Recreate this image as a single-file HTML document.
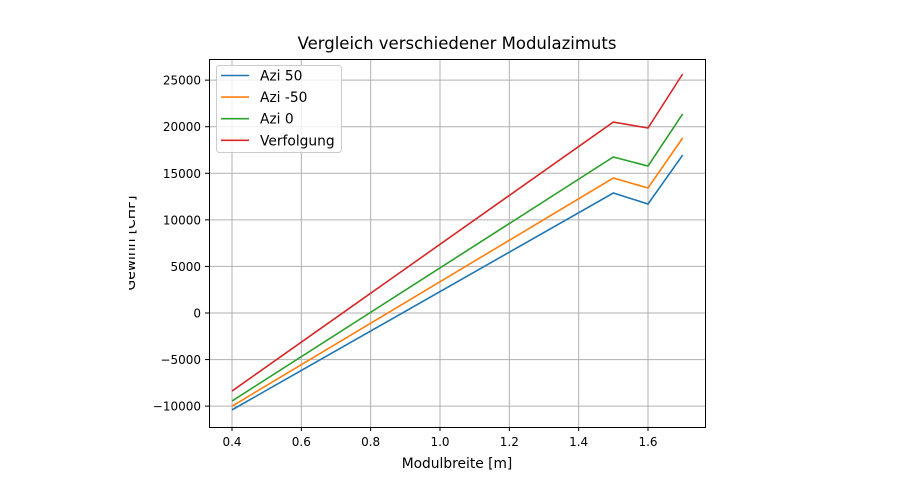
<!DOCTYPE html>
<html><head><meta charset="utf-8"><style>
body{margin:0;background:#fff;}
svg text{font-family:"DejaVu Sans","Liberation Sans",sans-serif;fill:#000;}
</style></head><body>
<svg id="chart" width="898" height="479">
<defs><clipPath id="ylclip"><rect x="129" y="0" width="100" height="479"/></clipPath></defs>
<rect width="898" height="479" fill="#fff"/>
<g id="grid"></g>
<g id="series"></g>
<rect x="209.5" y="59.5" width="496" height="368" fill="none" stroke="#000" stroke-width="1"/>
<g id="ticks"></g>
<text x="457" y="49" font-size="16.5" text-anchor="middle">Vergleich verschiedener Modulazimuts</text>
<text x="457" y="468" font-size="13.8" text-anchor="middle">Modulbreite [m]</text>
<g clip-path="url(#ylclip)"><text transform="translate(135,243) rotate(-90)" font-size="13.8" text-anchor="middle">Gewinn [CHF]</text></g>
<g id="legend">
<rect x="216.5" y="65.5" width="125" height="87" rx="3" fill="#fff" fill-opacity="0.8" stroke="#ccc"/>
</g>
</svg>
<script>
const xs=[0.4,1.5,1.6,1.7];
const names=["Azi 50","Azi -50","Azi 0","Verfolgung"];
const azi50=[-10400,12880,11700,16960];
const aziM50=[-10000,14490,13420,18790];
const azi0=[-9450,16750,15780,21370];
const verfolgung=[-8380,20500,19860,25660];
const xTicks=[0.4,0.6,0.8,1.0,1.2,1.4,1.6];
const xTickLabels=["0.4","0.6","0.8","1.0","1.2","1.4","1.6"];
const yTicks=[-10000,-5000,0,5000,10000,15000,20000,25000];
const yTickLabels=["\u221210000","\u22125000","0","5000","10000","15000","20000","25000"];
const colors=["#1f77b4","#ff7f0e","#2ca02c","#d62728"];
const X=v=>232+(v-0.4)*(416/1.2);
const Y=v=>313-v*(326/35000);
const NS="http://www.w3.org/2000/svg";
function mk(t,a,p){const e=document.createElementNS(NS,t);for(const k in a)e.setAttribute(k,a[k]);p.appendChild(e);return e;}
const grid=document.getElementById('grid'),ticks=document.getElementById('ticks'),ser=document.getElementById('series'),leg=document.getElementById('legend');
xTicks.forEach((v,i)=>{const x=X(v);
 const g=mk('line',{x1:x,x2:x,y1:59,y2:427,stroke:'#b0b0b0','stroke-width':1},grid);
 
 
 const t=mk('line',{x1:x,x2:x,y1:427,y2:431,stroke:'#000'},ticks);
 
 
 const l=mk('text',{x:x,y:446,'font-size':12,'text-anchor':'middle'},ticks);l.textContent=xTickLabels[i];
 
 
});
yTicks.forEach((v,i)=>{const y=Y(v);
 const g=mk('line',{x1:209,x2:705,y1:y,y2:y,stroke:'#b0b0b0','stroke-width':1},grid);
 
 
 const t=mk('line',{x1:205,x2:209,y1:y,y2:y,stroke:'#000'},ticks);
 
 
 const l=mk('text',{x:201,y:y+4.5,'font-size':12,'text-anchor':'end'},ticks);l.textContent=yTickLabels[i];
 
 
});
[azi50,aziM50,azi0,verfolgung].forEach((s,k)=>{
 const p=mk('polyline',{points:s.map((v,i)=>X(xs[i])+','+Y(v)).join(' '),fill:'none',stroke:colors[k],'stroke-width':1.6},ser);
 
 
 const y=75.5+k*21.6;
 const ll=mk('line',{x1:221,x2:249,y1:y,y2:y,stroke:colors[k],'stroke-width':1.6},leg);
 
 
 const lt=mk('text',{x:260,y:y+5,'font-size':13.8},leg);lt.textContent=names[k];
 
 
});
</script>
</body></html>
